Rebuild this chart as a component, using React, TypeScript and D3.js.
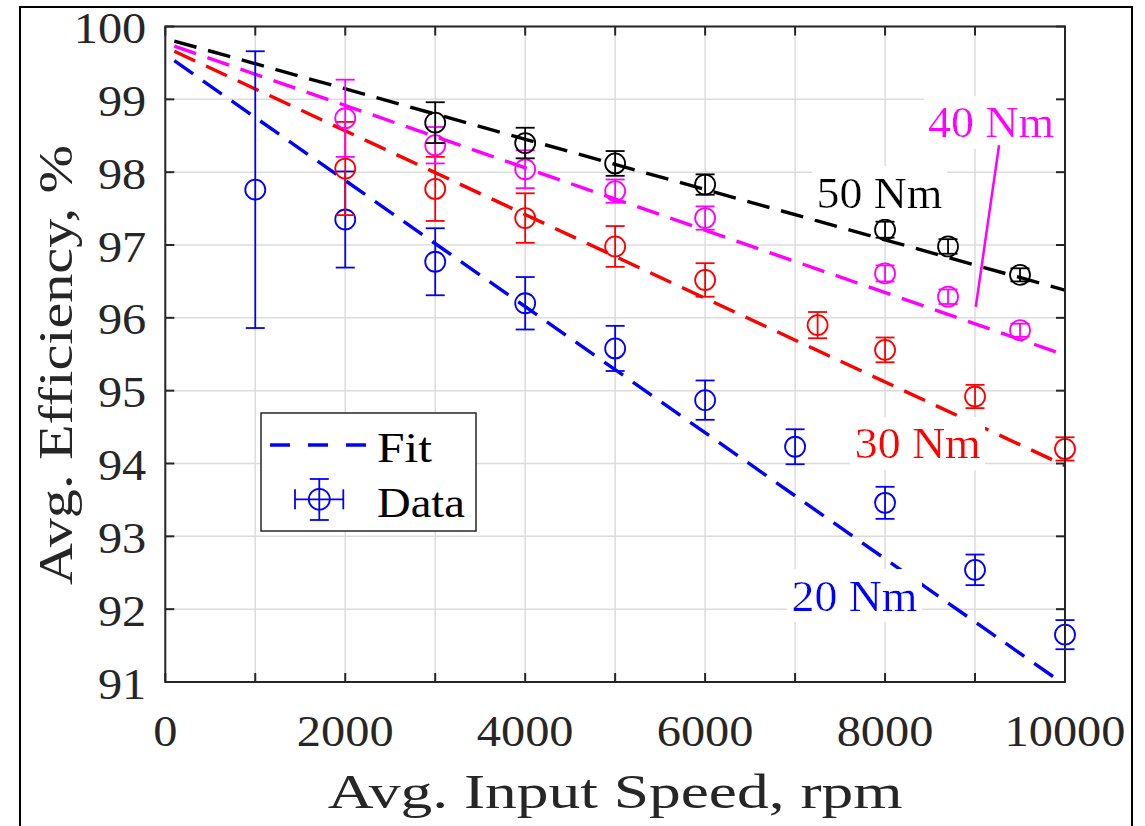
import React from "react";
import * as d3 from "d3";

// Measured efficiency (mean ± error) per torque level
const speeds20 = [1000, 2000, 3000, 4000, 5000, 6000, 7000, 8000, 9000, 10000];
const eff20 = [97.76, 97.35, 96.77, 96.2, 95.58, 94.87, 94.23, 93.46, 92.54, 91.65];
const err20 = [1.9, 0.66, 0.46, 0.36, 0.31, 0.27, 0.24, 0.22, 0.21, 0.2];

const speeds30 = [2000, 3000, 4000, 5000, 6000, 7250, 8000, 9000, 10000];
const eff30 = [98.05, 97.77, 97.37, 96.98, 96.52, 95.9, 95.56, 94.92, 94.2];
const err30 = [0.64, 0.44, 0.34, 0.28, 0.23, 0.18, 0.17, 0.16, 0.16];

const speeds40 = [2000, 3000, 4000, 5000, 6000, 8000, 8700, 9500];
const eff40 = [98.74, 98.37, 98.04, 97.74, 97.37, 96.61, 96.29, 95.83];
const err40 = [0.53, 0.25, 0.26, 0.16, 0.16, 0.11, 0.1, 0.09];

const speeds50 = [3000, 4000, 5000, 6000, 8000, 8700, 9500];
const eff50 = [98.68, 98.4, 98.12, 97.83, 97.21, 96.98, 96.59];
const err50 = [0.28, 0.21, 0.17, 0.14, 0.11, 0.1, 0.09];

// Linear fits: [speed, efficiency] at both ends
const fit20 = [[100, 99.53], [10000, 90.96]];
const fit30 = [[100, 99.66], [10000, 93.97]];
const fit40 = [[100, 99.73], [10000, 95.49]];
const fit50 = [[100, 99.8], [10000, 96.38]];

// Torque labels: [speed, efficiency] of text start / baseline
const labelNames = ["20 Nm", "30 Nm", "40 Nm", "50 Nm"];
const labelPos = [[6960, 91.98], [7663, 94.07], [8478, 98.48], [7238, 97.51]];
// Leader line from the 40 Nm label
const leader40 = [[9267, 98.37], [9008, 96.15]];

const xTicks = [0, 1000, 2000, 3000, 4000, 5000, 6000, 7000, 8000, 9000, 10000];
const xTickLabels = ["0", "2000", "4000", "6000", "8000", "10000"];
const yTicks = [91, 92, 93, 94, 95, 96, 97, 98, 99, 100];

const BLUE = "#0000ff";
const RED = "#ff0000";
const MAGENTA = "#ff00ff";
const BLACK = "#000000";
const AXIS = "#262626";
const SERIF = '"Liberation Serif", "DejaVu Serif", serif';

const series = [
  { speeds: speeds20, eff: eff20, err: err20, fit: fit20, color: BLUE },
  { speeds: speeds30, eff: eff30, err: err30, fit: fit30, color: RED },
  { speeds: speeds40, eff: eff40, err: err40, fit: fit40, color: MAGENTA },
  { speeds: speeds50, eff: eff50, err: err50, fit: fit50, color: BLACK },
];
const labelColors = [BLUE, RED, MAGENTA, BLACK];

const W = 1145;
const H = 826;
const left = 165.3;
const right = 1065;
const top = 26.5;
const bottom = 682;

export default function App() {
  const x = d3.scaleLinear().domain([0, 10000]).range([left, right]);
  const y = d3.scaleLinear().domain([91, 100]).range([bottom, top]);
  const line = d3
    .line<number[]>()
    .x((d) => x(d[0]))
    .y((d) => y(d[1]));

  const cap = 9.5;
  const r = 10;
  const serif = { fontFamily: SERIF };

  return (
    <svg
      width={W}
      height={H}
      style={{ position: "absolute", left: 0, top: 0, background: "#fff" }}
    >
      <defs>
        <clipPath id="plotArea">
          <rect x={left} y={top} width={right - left} height={bottom - top} />
        </clipPath>
        <filter id="textBg" x="-0.03" y="-0.02" width="1.06" height="1.04">
          <feFlood floodColor="#ffffff" />
          <feMerge>
            <feMergeNode />
            <feMergeNode in="SourceGraphic" />
          </feMerge>
        </filter>
      </defs>

      <rect x={0} y={0} width={W} height={H} fill="#fff" />
      {/* figure frame */}
      <rect x={20} y={7} width={1112} height={840} fill="none" stroke="#000" strokeWidth={2} />

      {/* grid */}
      <g stroke="#dcdcdc" strokeWidth={1.5}>
        {xTicks.map((t) => (
          <line key={"gx" + t} x1={x(t)} x2={x(t)} y1={top} y2={bottom} />
        ))}
        {yTicks.map((t) => (
          <line key={"gy" + t} x1={left} x2={right} y1={y(t)} y2={y(t)} />
        ))}
      </g>

      {/* fitted lines */}
      <g clipPath="url(#plotArea)" fill="none" strokeWidth={3.4} strokeDasharray="23 12">
        {series.map((s, i) => (
          <path key={"fit" + i} d={line(s.fit) || ""} stroke={s.color} />
        ))}
      </g>

      {/* measured points with error bars */}
      {series.map((s, i) => (
        <g key={"data" + i} stroke={s.color} fill="none" strokeWidth={1.8}>
          {s.speeds.map((v, j) => {
            const cx = x(v);
            const hi = y(s.eff[j] + s.err[j]);
            const lo = y(s.eff[j] - s.err[j]);
            return (
              <g key={j}>
                <line x1={cx} x2={cx} y1={hi} y2={lo} />
                <line x1={cx - cap} x2={cx + cap} y1={hi} y2={hi} />
                <line x1={cx - cap} x2={cx + cap} y1={lo} y2={lo} />
                <circle cx={cx} cy={y(s.eff[j])} r={r} />
              </g>
            );
          })}
        </g>
      ))}

      {/* torque labels */}
      {labelNames.map((name, i) => (
        <text
          key={name}
          x={x(labelPos[i][0])}
          y={y(labelPos[i][1])}
          fill={labelColors[i]}
          style={serif}
          fontSize={45}
          textLength={126}
          lengthAdjust="spacingAndGlyphs"
          filter="url(#textBg)"
        >
          {name}
        </text>
      ))}
      <line
        x1={x(leader40[0][0])}
        y1={y(leader40[0][1])}
        x2={x(leader40[1][0])}
        y2={y(leader40[1][1])}
        stroke={MAGENTA}
        strokeWidth={2.5}
      />

      {/* axes box and ticks */}
      <g stroke={AXIS} strokeWidth={2}>
        <rect x={left} y={top} width={right - left} height={bottom - top} fill="none" />
        {xTicks.map((t) => (
          <g key={"tx" + t}>
            <line x1={x(t)} x2={x(t)} y1={bottom} y2={bottom - 9} />
            <line x1={x(t)} x2={x(t)} y1={top} y2={top + 9} />
          </g>
        ))}
        {yTicks.map((t) => (
          <g key={"ty" + t}>
            <line x1={left} x2={left + 9} y1={y(t)} y2={y(t)} />
            <line x1={right} x2={right - 9} y1={y(t)} y2={y(t)} />
          </g>
        ))}
      </g>

      {/* tick labels */}
      <g fill={AXIS} style={serif} fontSize={45}>
        {xTickLabels.map((lab) => (
          <text
            key={"lx" + lab}
            x={x(+lab)}
            y={746}
            textAnchor="middle"
            textLength={lab.length * 24.2}
            lengthAdjust="spacingAndGlyphs"
          >
            {lab}
          </text>
        ))}
        {yTicks.map((t) => (
          <text
            key={"ly" + t}
            x={left - 19}
            y={y(t) + 16.5}
            textAnchor="end"
            textLength={String(t).length * 24.2}
            lengthAdjust="spacingAndGlyphs"
          >
            {t}
          </text>
        ))}
      </g>

      {/* axis titles */}
      <text
        x={(left + right) / 2}
        y={808}
        textAnchor="middle"
        fill={AXIS}
        style={serif}
        fontSize={48}
        textLength={575}
        lengthAdjust="spacingAndGlyphs"
      >
        Avg. Input Speed, rpm
      </text>
      <text
        transform="translate(71.7,365) rotate(-90)"
        textAnchor="middle"
        fill={AXIS}
        style={serif}
        fontSize={48}
        textLength={440}
        lengthAdjust="spacingAndGlyphs"
      >
        Avg. Efficiency, %
      </text>

      {/* legend */}
      <g>
        <rect x={261} y={413} width={215} height={118} fill="#fff" stroke={AXIS} strokeWidth={1.5} />
        <line x1={270} x2={368} y1={445} y2={445} stroke={BLUE} strokeWidth={3.4} strokeDasharray="20 18" />
        <text x={377} y={462} style={serif} fontSize={42} fill="#000" textLength={55} lengthAdjust="spacingAndGlyphs">
          Fit
        </text>
        <g stroke={BLUE} strokeWidth={1.8} fill="none">
          <line x1={295} x2={343.3} y1={499.3} y2={499.3} />
          <line x1={295} x2={295} y1={489.3} y2={509.3} />
          <line x1={343.3} x2={343.3} y1={489.3} y2={509.3} />
          <line x1={319.3} x2={319.3} y1={479} y2={520} />
          <line x1={309.8} x2={328.8} y1={479} y2={479} />
          <line x1={309.8} x2={328.8} y1={520} y2={520} />
          <circle cx={319.3} cy={499.3} r={10.5} />
        </g>
        <text x={377} y={516.7} style={serif} fontSize={42} fill="#000" textLength={88} lengthAdjust="spacingAndGlyphs">
          Data
        </text>
      </g>
    </svg>
  );
}
